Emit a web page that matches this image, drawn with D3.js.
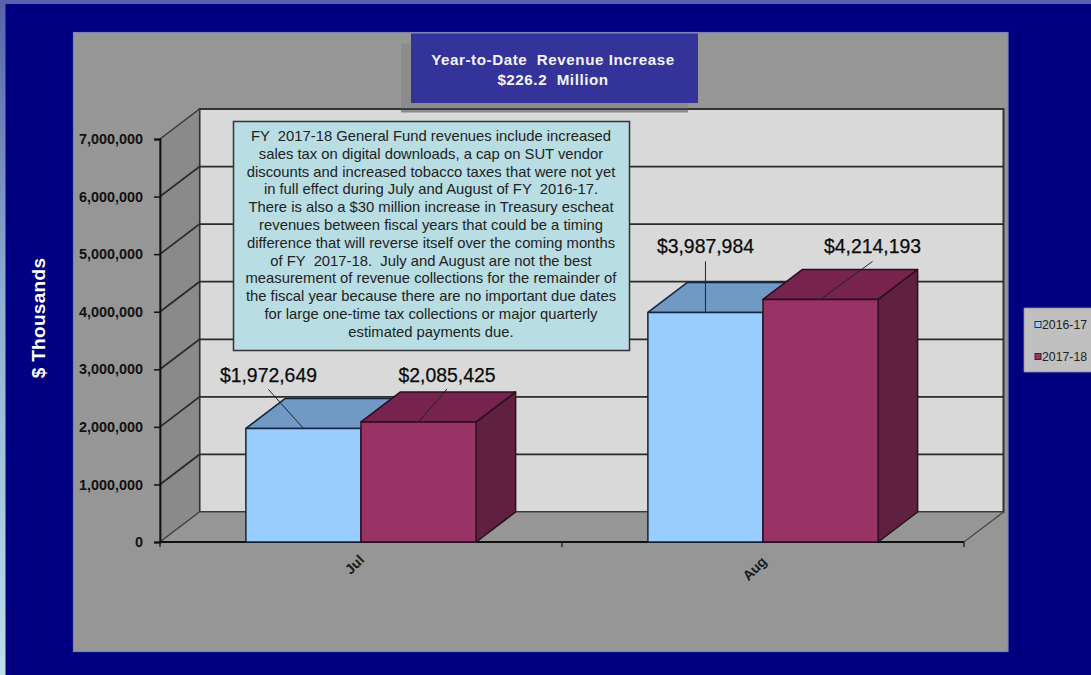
<!DOCTYPE html>
<html>
<head>
<meta charset="utf-8">
<script src="https://cdn.jsdelivr.net/npm/d3@7"></script>
<style>
  html, body { margin: 0; padding: 0; background: #000080; overflow: hidden; }
  svg { display: block; }
  text { font-family: "Liberation Sans", Arial, sans-serif; }
</style>
</head>
<body>
<svg id="chart" width="1091" height="675"></svg>
<script>
// Revenue figures, $ thousands
const categories = ["Jul", "Aug"];
const seriesNames = ["2016-17", "2017-18"];
const values2016 = [1972649, 3987984];
const values2017 = [2085425, 4214193];
const yTicks = [0, 1000000, 2000000, 3000000, 4000000, 5000000, 6000000, 7000000];
const yMax = 7000000;

const titleLines = ["Year-to-Date  Revenue Increase", "$226.2  Million"];
const noteLines = [
  "FY  2017-18 General Fund revenues include increased",
  "sales tax on digital downloads, a cap on SUT vendor",
  "discounts and increased tobacco taxes that were not yet",
  "in full effect during July and August of FY  2016-17.",
  "There is also a $30 million increase in Treasury escheat",
  "revenues between fiscal years that could be a timing",
  "difference that will reverse itself over the coming months",
  "of FY  2017-18.  July and August are not the best",
  "measurement of revenue collections for the remainder of",
  "the fiscal year because there are no important due dates",
  "for large one-time tax collections or major quarterly",
  "estimated payments due."
];

const svg = d3.select("#chart");
const defs = svg.append("defs");

// Slide background with its pale left and top edges
const edge = defs.append("linearGradient").attr("id", "edge")
  .attr("x1", 0).attr("y1", 0).attr("x2", 0).attr("y2", 1);
edge.append("stop").attr("offset", "0%").attr("stop-color", "#5663aa");
edge.append("stop").attr("offset", "45%").attr("stop-color", "#8fb0cf");
edge.append("stop").attr("offset", "100%").attr("stop-color", "#bcdfe8");

svg.append("rect").attr("width", 1091).attr("height", 675).attr("fill", "#000080");
svg.append("rect").attr("width", 5.5).attr("height", 675).attr("fill", "url(#edge)");
svg.append("rect").attr("width", 1091).attr("height", 4).attr("fill", "#5663aa");

// Chart panel
svg.append("rect").attr("x", 73.5).attr("y", 32.5).attr("width", 934.5).attr("height", 619)
  .attr("fill", "#969696").attr("stroke", "#7d83b8").attr("stroke-width", 1.2);

// Scales and the fixed 3D depth offset
const x0 = d3.scaleBand().domain(categories).range([160, 964]);
const x1 = d3.scaleBand().domain(seriesNames).range([0, x0.bandwidth()]).paddingInner(0).paddingOuter(0.746);
const y = d3.scaleLinear().domain([0, yMax]).range([542, 139]);
const depthX = 39.5, depthY = 30;
const [xL, xR] = x0.range();
const poly = pts => pts.map(p => p.join(",")).join(" ");

const walls = svg.append("g");
walls.append("polygon") // back wall
  .attr("points", poly([[xL + depthX, y(yMax) - depthY], [xR + depthX, y(yMax) - depthY], [xR + depthX, y(0) - depthY], [xL + depthX, y(0) - depthY]]))
  .attr("fill", "#d9d9d9").attr("stroke", "#333").attr("stroke-width", 2);
walls.append("polygon") // side wall
  .attr("points", poly([[xL, y(yMax)], [xL + depthX, y(yMax) - depthY], [xL + depthX, y(0) - depthY], [xL, y(0)]]))
  .attr("fill", "#8a8a8a").attr("stroke", "#333").attr("stroke-width", 1.2);
walls.append("polygon") // floor
  .attr("points", poly([[xL, y(0)], [xL + depthX, y(0) - depthY], [xR + depthX, y(0) - depthY], [xR, y(0)]]))
  .attr("fill", "#969696").attr("stroke", "#444").attr("stroke-width", 1.2);

// Gridlines run up the side wall and across the back wall
walls.selectAll("polyline.grid").data(yTicks.filter(d => d > 0 && d < yMax)).join("polyline")
  .attr("class", "grid").attr("fill", "none").attr("stroke", "#2b2b2b").attr("stroke-width", 1.8)
  .attr("points", d => poly([[xL, y(d)], [xL + depthX, y(d) - depthY], [xR + depthX, y(d) - depthY]]));

// Value axis
const yAxis = svg.append("g").attr("transform", `translate(${xL},0)`)
  .call(d3.axisLeft(y).tickValues(yTicks).tickFormat(d3.format(",")).tickSize(6).tickPadding(11));
yAxis.select(".domain").attr("stroke", "#111").attr("stroke-width", 1.8);
yAxis.selectAll(".tick line").attr("stroke", "#111").attr("stroke-width", 1.5);
yAxis.selectAll(".tick text").attr("font-family", "Liberation Sans, Arial, sans-serif")
  .attr("font-size", 14.4).attr("font-weight", "bold").attr("fill", "#111");

// Category axis
svg.append("line").attr("x1", xL).attr("x2", xR).attr("y1", y(0)).attr("y2", y(0))
  .attr("stroke", "#111").attr("stroke-width", 1.8);
svg.selectAll("line.cat-tick").data([xL, x0("Aug"), xR]).join("line").attr("class", "cat-tick")
  .attr("x1", d => d).attr("x2", d => d).attr("y1", y(0)).attr("y2", y(0) + 5)
  .attr("stroke", "#111").attr("stroke-width", 1.2);
const catLabelShift = { Jul: [-3, 26], Aug: [-5, 30] };
svg.selectAll("text.cat").data(categories).join("text").attr("class", "cat")
  .attr("transform", d => `translate(${x0(d) + x0.bandwidth() / 2 + catLabelShift[d][0]},${y(0) + catLabelShift[d][1]}) rotate(-45)`)
  .attr("text-anchor", "middle").attr("font-size", 14).attr("font-weight", "bold").attr("fill", "#1a1a1a")
  .text(d => d);

// Bars as extruded boxes
const barStyles = {
  "2016-17": { front: "#99ccff", top: "#7099c4", side: "#5c7fa8", line: "#16233d" },
  "2017-18": { front: "#993366", top: "#76244e", side: "#60203f", line: "#2a0f22" }
};
const rows = seriesNames.flatMap((s, si) => categories.map((c, ci) => ({
  series: s, cat: c, value: (si === 0 ? values2016 : values2017)[ci]
})));
const bars = svg.selectAll("g.bar").data(rows).join("g").attr("class", "bar");
bars.each(function (d) {
  const g = d3.select(this), st = barStyles[d.series];
  const l = x0(d.cat) + x1(d.series), r = l + x1.bandwidth(), t = y(d.value), b = y(0);
  const face = (pts, fill) => g.append("polygon").attr("points", poly(pts)).attr("fill", fill)
    .attr("stroke", st.line).attr("stroke-width", 1.5).attr("stroke-linejoin", "round");
  face([[r, b], [r + depthX, b - depthY], [r + depthX, t - depthY], [r, t]], st.side);
  face([[l, t], [l + depthX, t - depthY], [r + depthX, t - depthY], [r, t]], st.top);
  face([[l, t], [r, t], [r, b], [l, b]], st.front);
});

// Value labels: sideways shift of the label, leader rise, and baseline rise above the bar top
const labelPlacement = {
  "Jul|2016-17": { dx: -35, rise: 39, base: 46 },
  "Jul|2017-18": { dx: 28.5, rise: 33, base: 40 },
  "Aug|2016-17": { dx: 0, rise: 51, base: 59 },
  "Aug|2017-18": { dx: 52, rise: 38, base: 46 }
};
const money = d3.format("$,");
rows.forEach(d => {
  const p = labelPlacement[d.cat + "|" + d.series];
  const cx = x0(d.cat) + x1(d.series) + x1.bandwidth() / 2, ty = y(d.value);
  svg.append("line").attr("x1", cx).attr("y1", ty).attr("x2", cx + p.dx).attr("y2", ty - p.rise)
    .attr("stroke", "#222").attr("stroke-width", 1);
  svg.append("text").attr("x", cx + p.dx).attr("y", ty - p.base)
    .attr("text-anchor", "middle").attr("font-size", 19.4).attr("fill", "#0a0a0a")
    .attr("stroke", "#0a0a0a").attr("stroke-width", 0.25)
    .text(money(d.value));
});

// Axis title
svg.append("text").attr("transform", "translate(44.5,318) rotate(-90)")
  .attr("text-anchor", "middle").attr("font-size", 19).attr("font-weight", "bold").attr("fill", "#fff")
  .attr("letter-spacing", 0.3).text("$ Thousands");

// Headline box with its offset shadow; the top edge of the wall stays visible through it
svg.append("rect").attr("x", 401).attr("y", 43.5).attr("width", 287).attr("height", 69).attr("fill", "#8c8c8c");
svg.append("line").attr("x1", 401).attr("x2", 688).attr("y1", y(yMax) - depthY).attr("y2", y(yMax) - depthY)
  .attr("stroke", "#3c3c3c").attr("stroke-width", 1.8);
svg.append("rect").attr("x", 411).attr("y", 33.5).attr("width", 287).attr("height", 69.5).attr("fill", "#333399");
svg.selectAll("text.headline").data(titleLines).join("text").attr("class", "headline")
  .attr("x", 553).attr("y", (d, i) => 65 + i * 20)
  .attr("text-anchor", "middle").attr("font-size", 15.2).attr("font-weight", "bold").attr("fill", "#f4f4f8")
  .attr("letter-spacing", 0.55).style("white-space", "pre").text(d => d);

// Explanatory note
svg.append("rect").attr("x", 233.5).attr("y", 121.5).attr("width", 396).attr("height", 229)
  .attr("fill", "#b8dde3").attr("stroke", "#333").attr("stroke-width", 1.5);
svg.selectAll("text.note").data(noteLines).join("text").attr("class", "note")
  .attr("x", 431).attr("y", (d, i) => 141 + i * 17.8)
  .attr("text-anchor", "middle").attr("font-size", 14.8).attr("fill", "#222")
  .style("white-space", "pre").text(d => d);

// Legend, running off the right edge
svg.append("rect").attr("x", 1024).attr("y", 308).attr("width", 70).attr("height", 64)
  .attr("fill", "#c0c0c0").attr("stroke", "#8c8c9c").attr("stroke-width", 0.8);
const legend = svg.selectAll("g.legend").data(seriesNames).join("g").attr("class", "legend")
  .attr("transform", (d, i) => `translate(1035,${325 + i * 32})`);
legend.append("rect").attr("x", 0).attr("y", -3.5).attr("width", 6).attr("height", 6)
  .attr("fill", d => barStyles[d].front).attr("stroke", "#222").attr("stroke-width", 0.9);
legend.append("text").attr("x", 7).attr("y", 3.5).attr("font-size", 12.3).attr("fill", "#222").text(d => d);
</script>
</body>
</html>
